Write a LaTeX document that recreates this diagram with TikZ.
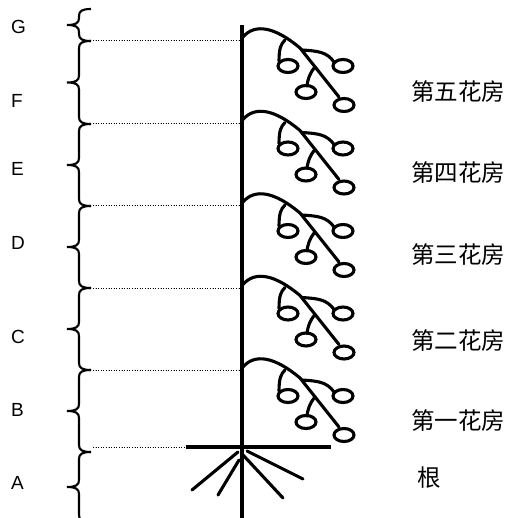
\documentclass[tikz,border=0pt]{standalone}
\usepackage{fontspec}
\setmainfont{Liberation Sans}
\newfontfamily\cjk{Noto Sans CJK SC}
\usetikzlibrary{positioning}
\tikzstyle{stalk} = [line width=3.8pt]
\tikzstyle{branch} = [line width=3.1pt, line cap=round]
\tikzstyle{bracket} = [line width=2.1pt]
\tikzstyle{guide} = [line width=1pt, dash pattern=on 1pt off 1.6pt]
\tikzstyle{letter} = [anchor=west, inner sep=0pt, font=\fontsize{19}{21}\selectfont]
\tikzstyle{truss} = [inner sep=0pt, font=\cjk\fontsize{23.5}{25}\selectfont]

% left brace between two heights, tip pointing left
\newcommand{\stagebrace}[2]{%
  \pgfmathsetmacro{\mid}{(#1+#2)/2}
  \draw[bracket] (91,#1) .. controls (82,#1) and (79,#1+2) .. (79,#1+7)
    -- (79,\mid-7) .. controls (79,\mid-2) and (76,\mid) .. (67,\mid)
    .. controls (76,\mid) and (79,\mid+2) .. (79,\mid+7)
    -- (79,#2-7) .. controls (79,#2-2) and (82,#2) .. (91,#2);
}

\begin{document}
\begin{tikzpicture}[x=1pt,y=-1pt]
\useasboundingbox (0,0) rectangle (513,518);

% main stalk, soil line and roots
\draw[stalk] (242,25) -- (242,522);
\draw[line width=4pt] (186,447) -- (331,447);
\draw[branch] (238,452) -- (192,490);
\draw[branch] (239,460) -- (218,495);
\draw[branch] (243,455) -- (283,498);
\draw[branch] (247,451) -- (303,479);

% one truss per node of the stalk
\foreach \i in {0,...,4}{
  \pgfmathsetmacro{\yy}{35+82.5*\i}
  \begin{scope}[shift={(243,\yy)}]
    \draw[branch] (0,2) .. controls (12,-12) and (32,-8) .. (57,13) -- (96,62);
    \draw[branch] (42,5) .. controls (38,9) and (36,13) .. (36,26);
    \draw[branch] (59,15) .. controls (75,16) and (84,17) .. (91,27);
    \draw[branch] (72,32) .. controls (67,38) and (65,43) .. (64,51);
    \draw[branch] (45,31) ellipse (10 and 6.5);
    \draw[branch] (100,31) ellipse (10 and 6.5);
    \draw[branch] (63,57) ellipse (10 and 6.5);
    \draw[branch] (101,70) ellipse (10 and 6.5);
  \end{scope}
}

% braces and dotted guides to the stalk
\foreach \t/\b in {9/41,41/124,124/206,206/288,288/370,370/452,452/522}
  \stagebrace{\t}{\b}
\foreach \y in {41,124,206,288,370,447}
  \draw[guide] (93,\y) -- (240,\y);

\node[letter] (G) at (11,27) {G};
\node[letter] (F) at (11,101) {F};
\node[letter] (E) at (11,169) {E};
\node[letter] (D) at (11,243) {D};
\node[letter] (C) at (11,337) {C};
\node[letter] (B) at (11,410) {B};
\node[letter] (A) at (11,483) {A};

\node[truss] (t5) at (458,92) {第五花房};
\node[truss] (t4) at (458,173) {第四花房};
\node[truss] (t3) at (458,255) {第三花房};
\node[truss] (t2) at (458,341) {第二花房};
\node[truss] (t1) at (458,421) {第一花房};
\node[truss] (root) at (429,478) {根};

\end{tikzpicture}
\end{document}
